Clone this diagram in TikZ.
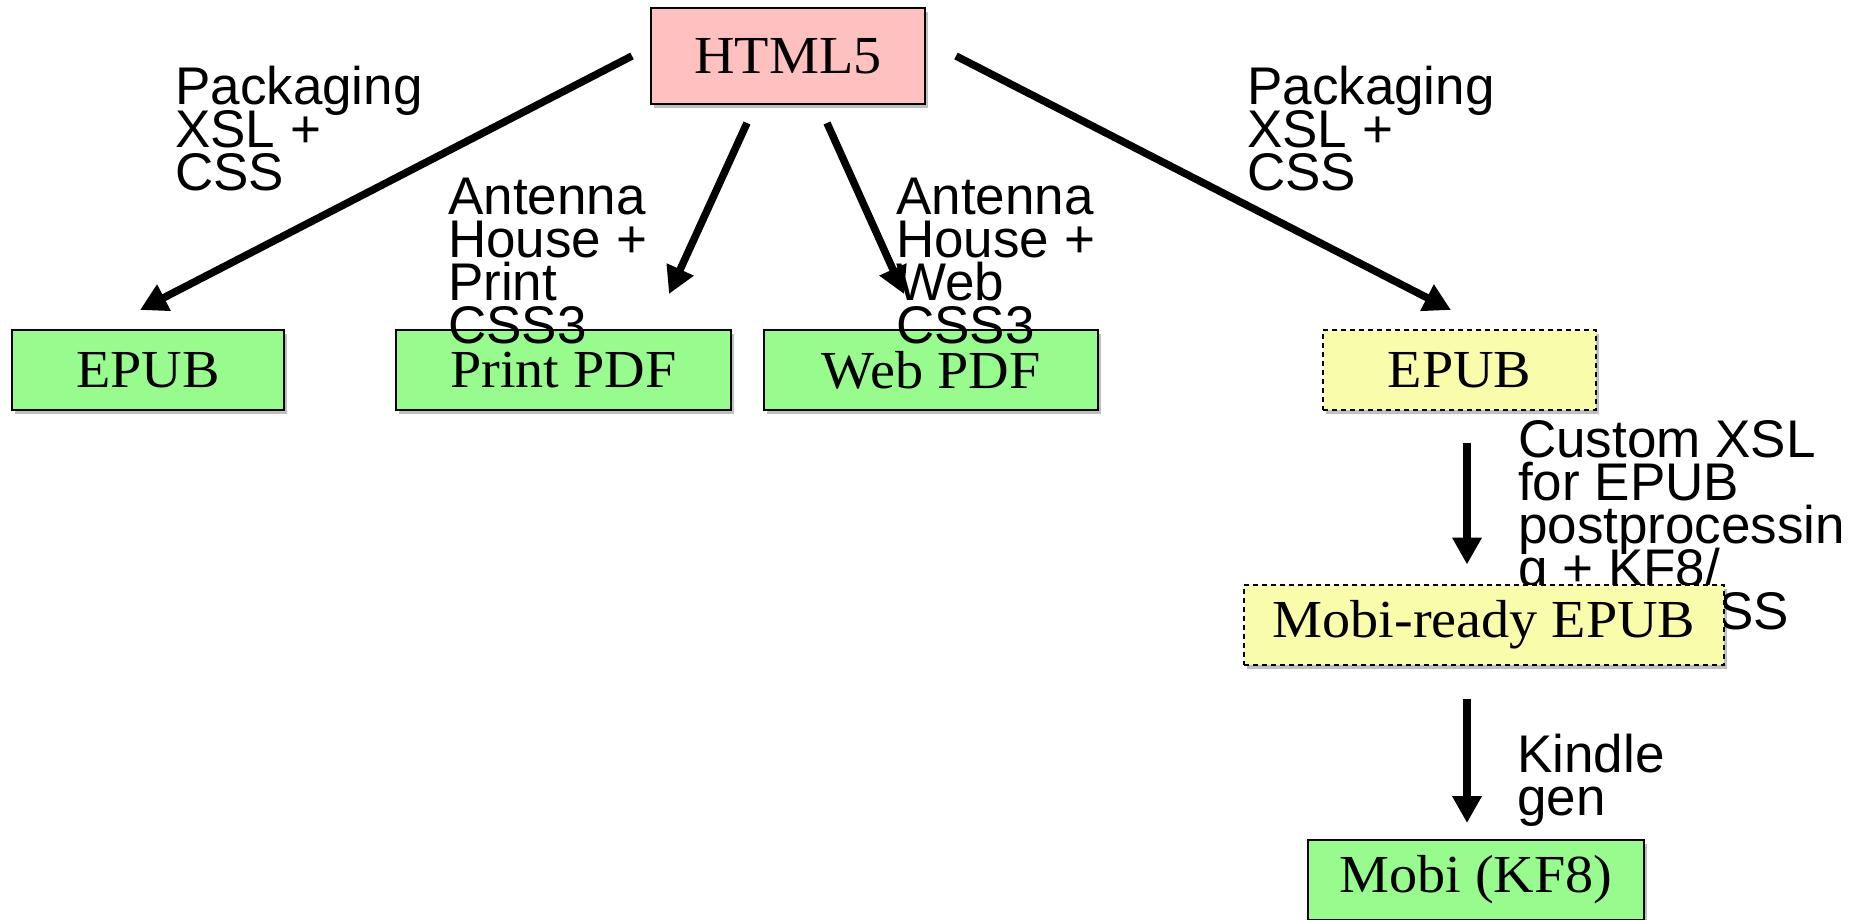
\documentclass[tikz,border=0pt]{standalone}
\usepackage{fontspec}
\setmainfont{Liberation Serif}[FakeStretch=1.05]
\newfontfamily\lblfamily{Liberation Sans}
\usetikzlibrary{arrows.meta,shadows,calc}
\definecolor{boxgreen}{RGB}{152,251,142}
\definecolor{boxpink}{RGB}{255,192,192}
\definecolor{boxyellow}{RGB}{249,252,170}
\lineskiplimit=-\maxdimen
\newcommand\lblfont{\lblfamily\fontsize{53pt}{43pt}\selectfont\lineskiplimit=-\maxdimen}
\newcommand\boxfont{\fontsize{53.5pt}{60pt}\selectfont}
\tikzset{
  x=1pt,y=1pt,
  basebox/.style={draw=black, line width=2pt, font=\boxfont, inner sep=0pt,
    drop shadow={shadow xshift=3pt, shadow yshift=-4pt, opacity=0.25, fill=black}},
  greenbox/.style={basebox, fill=boxgreen},
  pinkbox/.style={basebox, fill=boxpink},
  yellowbox/.style={basebox, fill=boxyellow, dash pattern=on 5pt off 4pt},
  lbl/.style={font=\lblfont, align=left, inner sep=0pt, anchor=north west},
  arr/.style={line width=7.5pt, -{Triangle[length=27pt,width=28pt]}},
}
\begin{document}
\begin{tikzpicture}
\useasboundingbox (0,0) rectangle (1872,-920);
% label partly hidden behind the Mobi-ready box
\node[lbl] (lcustom) at (1518,-420) {Custom XSL\\for EPUB\\postprocessin\\g + KF8/\\Kindle CSS};
% boxes
\node[pinkbox, minimum width=274pt, minimum height=96pt] (html) at (788,-56) {HTML5};
\node[greenbox, minimum width=272pt, minimum height=80pt] (epubL) at (148,-370) {EPUB};
\node[greenbox, minimum width=335pt, minimum height=80pt] (print) at (563.5,-370) {Print PDF};
\node[greenbox, minimum width=334pt, minimum height=80pt] (web) at (931,-370) {Web PDF};
\node[yellowbox, minimum width=273pt, minimum height=80pt] (epubR) at (1459.5,-370) {EPUB};
\node[yellowbox, minimum width=480pt, minimum height=80pt] (mready) at (1484,-624.5) {Mobi-ready EPUB};
\node[greenbox, minimum width=336pt, minimum height=80pt] (mobi) at (1476,-880) {Mobi (KF8)};
% labels
\node[lbl] (lpackL) at (175,-66) {Packaging\\XSL +\\CSS};
\node[lbl] (lprint) at (448,-178) {Antenna\\House +\\Print\\CSS3};
\node[lbl] (lweb) at (896,-178) {Antenna\\House +\\Web\\CSS3};
\node[lbl] (lpackR) at (1247,-66) {Packaging\\XSL +\\CSS};
\node[lbl] (lkindle) at (1517,-734) {Kindle\\gen};
% arrow end points
\coordinate (a1s) at ($(html.west)+(-18,0)$);
\coordinate (a1e) at ($(epubL.north)+(-8,19)$);
\coordinate (a2s) at ($(html.south)+(-41,-18)$);
\coordinate (a2e) at ($(print.north)+(105.5,35)$);
\coordinate (a3s) at ($(html.south)+(39,-18)$);
\coordinate (a3e) at ($(web.north)+(-27,35)$);
\coordinate (a4s) at ($(html.east)+(30,0)$);
\coordinate (a4e) at ($(epubR.north)+(-8.5,19)$);
\coordinate (a5s) at ($(epubR.south)+(7.5,-32)$);
\coordinate (a5e) at ($(mready.north)+(-17,19)$);
\coordinate (a6s) at ($(mready.south)+(-17,-33)$);
\coordinate (a6e) at ($(mobi.north)+(-9,16)$);
\draw[arr] (a1s) -- (a1e);
\draw[arr] (a2s) -- (a2e);
\draw[arr] (a3s) -- (a3e);
\draw[arr] (a4s) -- (a4e);
\draw[arr] (a5s) -- (a5e);
\draw[arr] (a6s) -- (a6e);
\end{tikzpicture}
\end{document}
